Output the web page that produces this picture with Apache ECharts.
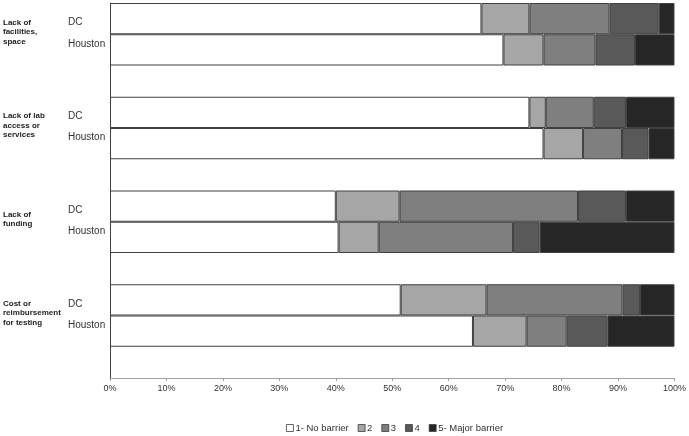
<!DOCTYPE html>
<html>
<head>
<meta charset="utf-8">
<script src="https://cdn.jsdelivr.net/npm/echarts@6/dist/echarts.min.js"></script>
<style>
	html, body { margin: 0; padding: 0; background: #fff; }
	#chart { width: 689px; height: 436px; }
</style>
</head>
<body>
<div id="chart"></div>
<script>
// barrier groups, top to bottom
var groupNames = ['Lack of\nfacilities,\nspace', 'Lack of lab\naccess or\nservices', 'Lack of\nfunding', 'Cost or\nreimbursement\nfor testing'];
var siteNames = ['DC', 'Houston'];
var levelNames = ['1- No barrier', '2', '3', '4', '5- Major barrier'];
var levelColors = ['#ffffff', '#a6a6a6', '#7f7f7f', '#595959', '#262626'];

// percent per row: DC, Houston for each group in order
var level1 = [65.8, 69.7, 74.3, 76.8, 40.0, 40.5, 51.5, 64.3];
var level2 = [8.5, 7.1, 2.9, 7.0, 11.3, 7.1, 15.2, 9.5];
var level3 = [14.2, 9.2, 8.5, 6.9, 31.6, 23.8, 24.1, 7.1];
var level4 = [8.7, 7.0, 5.7, 4.7, 8.5, 4.7, 3.1, 7.2];
var level5 = [2.8, 7.0, 8.6, 4.6, 8.6, 23.9, 6.1, 11.9];
var xTicks = [0, 10, 20, 30, 40, 50, 60, 70, 80, 90, 100];

/** each group takes three slots: DC, Houston and an empty spacer */
function toSlots(pValues) {
	var result = [];
	for (var g = 0; g < groupNames.length; g++) {
		result.push(pValues[g * 2], pValues[g * 2 + 1], '-');
	}
	return result;
}

var slotLabels = [];
for (var g = 0; g < groupNames.length; g++) {
	slotLabels.push(siteNames[0], siteNames[1], '');
}

var allLevels = [level1, level2, level3, level4, level5];
var series = allLevels.map(function (aLevel, i) {
	return {
		name: levelNames[i],
		type: 'bar',
		stack: 'total',
		yAxisIndex: 0,
		barCategoryGap: 0,
		itemStyle: { color: levelColors[i], borderColor: '#404040', borderWidth: 1 },
		emphasis: { disabled: true },
		data: toSlots(aLevel)
	};
});

var chart = echarts.init(document.getElementById('chart'));
chart.setOption({
	animation: false,
	textStyle: { fontFamily: 'Liberation Sans, Arial, sans-serif' },
	grid: { left: 110, right: 14, top: 3, bottom: 58, containLabel: false },
	legend: {
		data: levelNames,
		left: 286,
		top: 423,
		padding: 0,
		icon: 'rect',
		itemWidth: 7,
		itemHeight: 7,
		itemGap: 9,
		itemStyle: { borderWidth: 0.8 },
		textStyle: { fontSize: 9.5, color: '#333', padding: [0, 0, 0, -3] }
	},
	xAxis: {
		type: 'value',
		min: xTicks[0],
		max: xTicks[xTicks.length - 1],
		interval: 10,
		splitLine: { show: false },
		axisLine: { show: true, lineStyle: { color: '#a0a0a0' } },
		axisTick: { show: true, length: 3, lineStyle: { color: '#a0a0a0' } },
		axisLabel: { formatter: '{value}%', fontSize: 9, color: '#333', margin: 6 }
	},
	yAxis: [{
		type: 'category',
		inverse: true,
		data: slotLabels,
		axisLine: { show: true, lineStyle: { color: '#404040' } },
		axisTick: { show: false },
		axisLabel: {
			align: 'left',
			margin: 42,
			fontSize: 10,
			color: '#333',
			formatter: function (pValue) {
				if (pValue === 'DC') return '{dc|DC}';
				if (pValue === 'Houston') return '{hou|Houston}';
				return '';
			},
			rich: {
				dc: { fontSize: 10, color: '#333', padding: [8, 0, 0, 0] },
				hou: { fontSize: 10, color: '#333', padding: [0, 0, 12, 0] }
			}
		}
	}, {
		type: 'category',
		inverse: true,
		position: 'left',
		data: groupNames,
		axisLine: { show: false },
		axisTick: { show: false },
		axisLabel: {
			align: 'left',
			margin: 107,
			formatter: function (pValue) { return '{g|' + pValue.split('\n').join('}\n{g|') + '}'; },
			rich: {
				g: { fontSize: 8, fontWeight: 'bold', color: '#222', lineHeight: 9.5 }
			},
			padding: [0, 0, 36, 0]
		}
	}],
	series: series
});
</script>
</body>
</html>
